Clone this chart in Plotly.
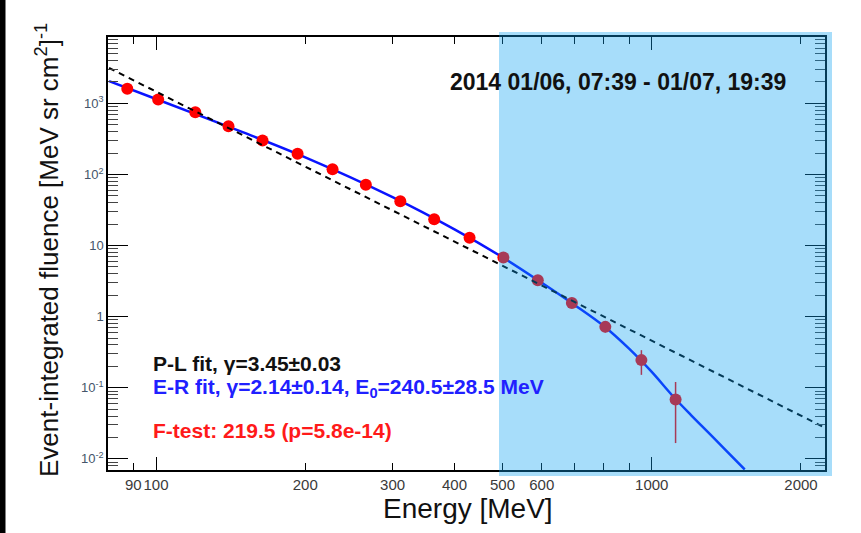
import math
import plotly.graph_objects as go

# ---- data ----
energy = [87.5, 101, 120, 140, 164, 193, 227, 265, 311, 364, 429, 502, 589, 690, 806, 953, 1117]
fluence = [1603, 1135, 752, 478, 301, 196, 118, 71.9, 41.9, 23.4, 12.9, 6.78, 3.26, 1.56, 0.719, 0.245, 0.0687]
fluence_err = [20, 15, 10, 7, 5, 3.5, 2.3, 1.5, 1.0, 0.6, 0.4, 0.25, 0.15, 0.1, 0.12, 0.093, 0.052]

pl_energy = [80.4, 2236]
pl_fluence = [3140, 0.0274]

er_energy = [80.4, 100, 150, 200, 300, 400, 500, 600, 700, 800, 900, 1000, 1100, 1200, 1300, 1400, 1540]
er_fluence = [2050, 1150, 390, 174, 48, 16.9, 6.85, 3.0, 1.45, 0.74, 0.355, 0.167, 0.078, 0.0414, 0.0236, 0.014, 0.0071]

x_tick_vals = [90, 100, 200, 300, 400, 500, 600, 1000, 2000]
x_tick_text = ["90", "100", "200", "300", "400", "500", "600", "1000", "2000"]
x_minor_vals = [80, 700, 800, 900]
x_long_vals = [100, 1000]
y_tick_vals = [0.01, 0.1, 1, 10, 100, 1000]
y_tick_text = ["10<sup>-2</sup>", "10<sup>-1</sup>", "1", "10", "10<sup>2</sup>", "10<sup>3</sup>"]

title_text = "2014 01/06, 07:39 - 01/07, 19:39"
pl_label = "P-L fit, γ=3.45±0.03"
er_label = "E-R fit, γ=2.14±0.14, E<sub>0</sub>=240.5±28.5 MeV"
ftest_label = "F-test: 219.5 (p=5.8e-14)"

FONT = "Liberation Sans, Arial, Helvetica, sans-serif"

# pixel geometry of the frame
W, H = 861, 533
L, R, T, B = 108, 825, 37, 470
xr = [math.log10(80), math.log10(2236)]
yr = [-2.156, 3.933]


def px(p):
    return (p - L) / (R - L)


def py(q):
    return (B - q) / (B - T)


fig = go.Figure()

fig.add_trace(go.Scatter(
    x=pl_energy, y=pl_fluence, xaxis="x2", mode="lines",
    line=dict(color="black", width=2, dash="6px,5px"), showlegend=False, hoverinfo="skip"))

fig.add_trace(go.Scatter(
    x=er_energy, y=er_fluence, mode="lines", line_shape="spline",
    line=dict(color="#0a14ff", width=2.5), showlegend=False, hoverinfo="skip"))

fig.add_trace(go.Scatter(
    x=energy, y=fluence, mode="markers",
    marker=dict(color="#ff0000", size=12, symbol="circle"),
    error_y=dict(type="data", array=fluence_err, color="#ff0000", thickness=1.5, width=0),
    showlegend=False))

axis_common = dict(showline=True, linecolor="black", linewidth=1.5, ticks="inside",
                   tickcolor="black", mirror="ticks", showgrid=False, zeroline=False)

fig.update_layout(
    width=W, height=H,
    margin=dict(l=L, r=W - R, t=T, b=H - B),
    paper_bgcolor="black", plot_bgcolor="white",
    font=dict(family=FONT, color="#333"),
    xaxis=dict(type="log", range=xr, tickvals=x_tick_vals, ticktext=x_tick_text, tickangle=0,
               ticklen=7, tickwidth=1.2, tickfont=dict(size=15, color="#3a3a3a"),
               minor=dict(tickvals=x_minor_vals, ticklen=7, tickcolor="black", ticks="inside"),
               **axis_common),
    xaxis2=dict(type="log", range=xr, overlaying="x", anchor="y", side="bottom",
                tickvals=x_long_vals, showticklabels=False, ticklen=13, tickwidth=1.2,
                showline=False, ticks="inside", tickcolor="black", mirror="ticks",
                showgrid=False, zeroline=False),
    yaxis=dict(type="log", range=yr, tickvals=y_tick_vals, ticktext=y_tick_text,
               ticklen=20, tickwidth=1.2, tickfont=dict(size=13, color="#45556a"),
               minor=dict(tickvals=[m * 10 ** k for k in range(-3, 4) for m in range(2, 10)],
                          ticklen=10, tickcolor="#444", ticks="inside"),
               **axis_common),
)

# white page everywhere except a narrow dark band at the left edge of the photo
fig.add_shape(type="rect", xref="paper", yref="paper",
              x0=px(5.5), x1=px(W + 2), y0=py(H + 2), y1=py(-2),
              fillcolor="white", line=dict(width=0), layer="below")

# annotations
fig.add_annotation(text="<b>" + title_text + "</b>", xref="paper", yref="paper",
                   x=px(618), y=py(82), xanchor="center", yanchor="middle",
                   showarrow=False, font=dict(size=23, color="#111", family=FONT))
fig.add_annotation(text="<b>" + pl_label + "</b>", xref="paper", yref="paper", x=px(151), y=py(363),
                   xanchor="left", yanchor="middle", showarrow=False, font=dict(size=21, color="#111"))
fig.add_annotation(text="<b>" + er_label + "</b>", xref="paper", yref="paper", x=px(151), y=py(388),
                   xanchor="left", yanchor="middle", showarrow=False, font=dict(size=21, color="#2020ff"))
fig.add_annotation(text="<b>" + ftest_label + "</b>", xref="paper", yref="paper", x=px(151), y=py(430),
                   xanchor="left", yanchor="middle", showarrow=False, font=dict(size=21, color="#ff1a1a"))
fig.add_annotation(text="Energy [MeV]", xref="paper", yref="paper", x=px(468), y=py(508),
                   xanchor="center", yanchor="middle",
                   showarrow=False, font=dict(size=28, color="#111"))
fig.add_annotation(text="Event-integrated fluence [MeV sr cm<sup>2</sup>]<sup>-1</sup>",
                   xref="paper", yref="paper", x=px(48), y=py(250), textangle=-90,
                   xanchor="center", yanchor="middle",
                   showarrow=False, font=dict(size=26, color="#111"))

# shaded region (overlay) from 500 MeV to beyond the right edge
fig.add_shape(type="rect", xref="paper", yref="paper",
              x0=px(499), x1=px(832), y0=py(476), y1=py(32),
              fillcolor="rgba(10,160,240,0.36)", line=dict(width=0), layer="above")

fig.write_html("out.html", config={"displayModeBar": False},
               post_script="document.body.style.margin='0';")
